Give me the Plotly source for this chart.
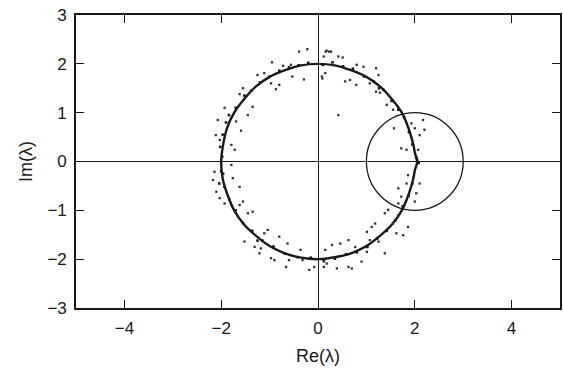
import numpy as np
import plotly.graph_objects as go

# Dense core of the eigenvalue ring, read in polar form (angle in degrees, radius)
core_theta = [0, 5, 10, 20, 30, 40, 50, 60, 70, 80, 90, 100, 110, 120, 130, 140, 150, 160, 170, 180,
              190, 200, 210, 220, 230, 240, 250, 260, 270, 280, 290, 300, 310, 320, 330, 340, 350, 355, 360]
core_r = [2.05, 2.01, 2.00, 1.99, 2.00, 1.99, 2.00, 2.00, 1.99, 2.00, 2.00, 2.00, 1.99, 2.00, 2.00, 1.99, 2.00, 2.00, 1.99, 2.00,
          2.00, 1.99, 2.00, 2.00, 1.99, 2.00, 2.00, 2.00, 2.00, 1.99, 2.00, 2.00, 1.99, 2.00, 2.00, 1.99, 2.00, 2.01, 2.05]

# Points scattered near the ring (x, y)
near_x = [-1.98, -2.02, -1.96, -2.04, -1.90, -1.84, -1.70, -1.52, -1.38, -1.20, -1.00, -0.80, -0.60, -0.40, -0.20,
          0.10, 0.30, 0.52, 0.72, 0.95, 1.15, 1.35, 1.52, 1.66, 1.78, 1.88, 1.95, 2.03, 2.08, 2.05,
          1.95, 1.87, 1.75, 1.60, 1.42, 1.22, 1.02, 0.80, 0.58, 0.35, 0.12, -0.15, -0.42, -0.68, -0.92,
          -1.15, -1.36, -1.55, -1.70, -1.83, -1.93, -2.00, -1.97, 1.26, -1.25]
near_y = [0.10, 0.30, -0.25, -0.45, 0.80, 0.95, 1.10, 1.35, 1.45, 1.62, 1.74, 1.86, 1.93, 1.97, 2.02,
          1.98, 2.03, 1.95, 1.90, 1.74, 1.64, 1.47, 1.24, 1.06, 0.90, 0.60, 0.35, 0.08, -0.03, 0.02,
          -0.45, -0.70, -0.92, -1.20, -1.42, -1.58, -1.75, -1.86, -1.90, -1.99, -2.04, -1.97, -1.96, -1.89, -1.74,
          -1.62, -1.42, -1.26, -1.00, -0.78, -0.52, -0.20, 0.55, 1.50, -1.62]

# Outlying eigenvalues (x, y)
out_x = [-0.39, -0.22, -0.95, -0.72, -0.29, -0.53, -0.87, -1.11, -1.25, -1.93, -1.62, -1.55, -1.45, -1.59, -2.07,
         -2.11, -1.72, -1.79, -2.03, -1.69, -0.97, -1.35, -0.56, -0.80,
         0.18, 0.27, 0.42, 0.51, 0.12, 0.08, 0.15, 0.56, 0.66, 0.79, 0.80, 0.94, 1.20, 1.25, 1.20, 1.28, 1.45,
         1.42, 1.55, 0.42, 1.57, 1.72, 1.83, 2.17, 2.20, 2.10, 2.07, 1.93, 2.00, 1.07, 0.16, 0.23, 0.09,
         -2.14, -2.17, -2.10, -1.79, -1.76, -1.62, -2.03, -1.55, -1.62, -1.45, -1.35, -1.93, -1.04, -1.11, -0.80,
         -1.52, -1.31, -1.18, -0.97, -0.90, -0.66, -0.60, -0.36, -0.32, -0.18, -0.08, -0.63, -1.21,
         1.86, 1.83, 1.66, 2.10, 2.03, 2.00, 1.72, 1.66, 1.45, 1.38, 1.86, 1.76, 1.62, 1.55, 1.18, 1.11, 1.01,
         1.38, 0.63, 0.46, 0.29, 0.15, 0.39, 0.63, 0.70, 0.90, 0.12, 0.18, 0.77, 1.07, 1.66, 1.01, 1.25]
out_y = [2.25, 2.30, 2.03, 1.96, 1.68, 1.74, 1.48, 1.81, 1.77, 1.10, 1.38, 1.50, 0.95, 0.63, 0.85,
         0.54, 0.24, 0.34, 0.44, 0.82, 1.60, 1.12, 1.98, 1.57,
         2.27, 2.25, 2.15, 2.13, 2.15, 1.74, 1.81, 1.64, 1.67, 1.57, 1.98, 1.94, 1.91, 1.77, 1.43, 1.41, 1.36,
         1.16, 1.06, 0.95, 0.68, 0.27, 0.24, 0.85, 0.65, 0.54, 0.24, 0.78, 0.68, 1.60, 2.25, 2.25, 1.70,
         -0.21, -0.38, -0.62, -0.07, -0.34, -0.52, -0.75, -0.82, -0.89, -1.06, -1.03, -0.86, -1.40, -1.47, -1.54,
         -1.64, -1.75, -1.78, -1.98, -2.02, -2.16, -2.02, -1.81, -2.02, -2.22, -2.16, -1.68, -1.88,
         -0.28, -0.45, -0.55, -0.45, -0.65, -0.82, -0.72, -0.86, -0.99, -1.06, -1.34, -1.51, -1.47, -1.27, -1.27, -1.34, -1.44,
         -1.88, -1.61, -1.68, -1.71, -1.81, -2.19, -2.16, -2.19, -2.05, -2.16, -2.09, -1.75, -1.61, -1.10, -1.85, -1.64]

# Reference circle: centre and radius
circle_center = (2.0, 0.0)
circle_radius = 1.0

x_ticks = [-4, -2, 0, 2, 4]
y_ticks = [-3, -2, -1, 0, 1, 2, 3]

th = np.deg2rad(np.array(core_theta))
cr = np.array(core_r)
core_x = cr * np.cos(th)
core_y = cr * np.sin(th)

ink = "#1a1a1a"
font_family = "Liberation Sans, Arial"
fig = go.Figure()
fig.add_trace(go.Scatter(x=core_x, y=core_y, mode="lines",
                         line=dict(color=ink, width=2.4, shape="spline", smoothing=1.0),
                         hoverinfo="skip", showlegend=False))
fig.add_trace(go.Scatter(x=near_x, y=near_y, mode="markers",
                         marker=dict(color=ink, size=2.6, symbol="square"), showlegend=False))
fig.add_trace(go.Scatter(x=out_x, y=out_y, mode="markers",
                         marker=dict(color="#333333", size=2.3, symbol="square"), showlegend=False))

cx, cy = circle_center
fig.add_shape(type="circle", xref="x", yref="y",
              x0=cx - circle_radius, x1=cx + circle_radius,
              y0=cy - circle_radius, y1=cy + circle_radius,
              line=dict(color=ink, width=1.3))

axis_common = dict(showline=True, linecolor=ink, linewidth=1.6, mirror="ticks",
                   ticks="inside", ticklen=8, tickwidth=1.3, tickcolor=ink,
                   showgrid=False, zeroline=True, zerolinecolor=ink, zerolinewidth=1.2,
                   tickfont=dict(family=font_family, size=17, color=ink))

fig.update_xaxes(range=[-5, 5], tickvals=x_ticks, ticktext=[str(v).replace("-", "\u2212") for v in x_ticks],
                 ticklabelstandoff=4,
                 title=dict(text="Re(\u03bb)", font=dict(family=font_family, size=18, color=ink), standoff=12),
                 **axis_common)
fig.update_yaxes(range=[-3, 3], tickvals=y_ticks, ticktext=[str(v).replace("-", "\u2212") for v in y_ticks],
                 ticklabelstandoff=4,
                 title=dict(text="Im(\u03bb)", font=dict(family=font_family, size=18, color=ink), standoff=10),
                 **axis_common)

fig.update_layout(width=563, height=375, margin=dict(l=76, r=1, t=15, b=67),
                  paper_bgcolor="white", plot_bgcolor="white")

fig.write_html("out.html")
